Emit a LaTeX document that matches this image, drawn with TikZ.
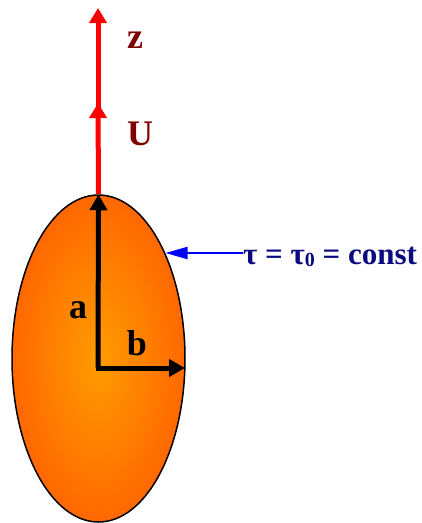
\documentclass[tikz,border=0pt]{standalone}
\usepackage{fontspec}
\setmainfont{Liberation Serif}
\usetikzlibrary{arrows.meta,shapes.geometric}
\definecolor{darkred}{RGB}{128,0,0}
\definecolor{navytxt}{RGB}{10,10,128}
\definecolor{orin}{RGB}{255,156,0}
\definecolor{orout}{RGB}{255,104,0}
\begin{document}
\begin{tikzpicture}[x=1pt,y=-1pt,
  lbl/.style={font=\fontsize{36}{40}\selectfont\bfseries, inner sep=0pt, anchor=base},
  redarr/.style={draw=red, line width=5pt, -{Triangle[length=15pt,width=17pt]}},
  blackarr/.style={draw=black, line width=5pt, -{Triangle[length=16pt,width=17pt]}},
  bluearr/.style={draw=blue, line width=2pt, -{Triangle[length=22pt,width=12pt]}}]
\useasboundingbox (0,0) rectangle (422,523);
\node[ellipse, draw=black, line width=1.5pt, minimum width=173pt, minimum height=327pt, inner sep=0pt,
  inner color=orin, outer color=orout] (body) at (98.5,358.5) {};
\coordinate (o) at (98,368);
\coordinate (r) at (185,368);
\coordinate (mid) at (98,103);
\coordinate (midb) at (98,116);
\coordinate (top) at (98,8);
\draw[redarr] (body.north) -- (mid);
\draw[redarr] (midb) -- (top);
\draw[blackarr] (o) -- (body.north);
\draw[blackarr] ([xshift=-2.5pt]o) -- (r);
\node[lbl, text=darkred] (z) at (135,48) {z};
\node[lbl, text=darkred] (u) at (140,145) {U};
\node[lbl] (a) at (78,318) {a};
\node[lbl] (b) at (137,355) {b};
\node[font=\fontsize{31}{34}\selectfont\bfseries, text=navytxt, inner sep=0pt, anchor=base west] (tau) at (243,264)
  {τ = τ\raisebox{-0.2ex}{\fontsize{20}{21}\selectfont 0} = const};
\coordinate (tipb) at (165.5,253);
\coordinate (tails) at (243,253);
\draw[bluearr] (tails) -- (tipb);
\end{tikzpicture}
\end{document}
